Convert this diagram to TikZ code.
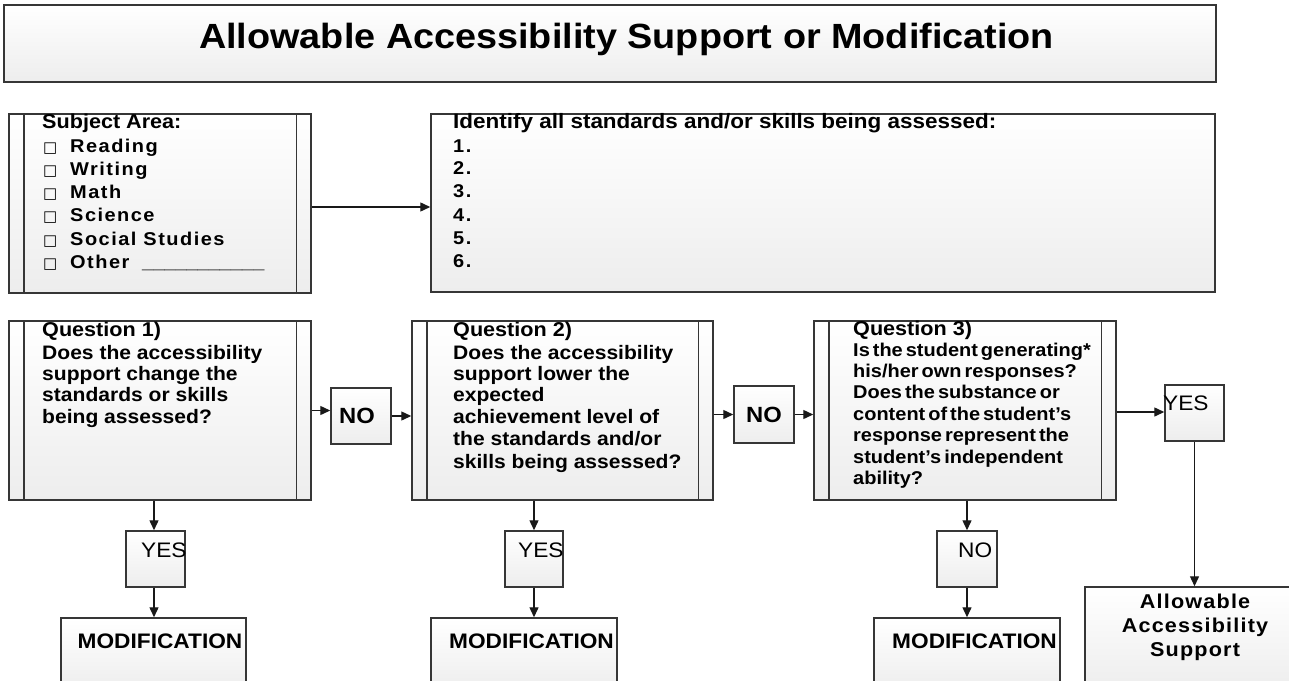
\documentclass[tikz,border=0pt]{standalone}
\usepackage{fontspec}
\setmainfont{Liberation Sans}[FakeStretch=1.08]
\newfontfamily\itemfont{Liberation Sans}[FakeStretch=1.08,LetterSpace=8]
\newfontfamily\allowfont{Liberation Sans}[FakeStretch=1.08,LetterSpace=6]
\newfontfamily\symfont{DejaVu Sans}
\usetikzlibrary{arrows.meta}
\definecolor{edge}{HTML}{363636}
\definecolor{boxbot}{HTML}{EDEDED}
\newcommand\tsp{\spaceskip=3pt plus 1pt\relax}
\tikzset{
  box/.style={draw=edge, line width=1.5pt, top color=white, bottom color=boxbot, inner sep=0pt, rectangle},
  arr/.style={draw=black!90, line width=1.4pt, -{Triangle[length=10pt,width=9pt]}},
  innerline/.style={draw=edge, line width=1.5pt},
  txt/.style={inner sep=0pt, anchor=base west, text=black},
  hdr/.style={txt, font=\bfseries\fontsize{20}{22}\selectfont},
  body/.style={txt, font=\bfseries\fontsize{19.5}{22}\selectfont},
  bodyc/.style={txt, font=\bfseries\fontsize{18.5}{21}\selectfont},
  itm/.style={txt, font=\itemfont\bfseries\fontsize{18.5}{20}\selectfont},
  sq/.style={txt, font=\symfont\fontsize{15}{16}\selectfont},
  ans/.style={txt, font=\fontsize{21}{24}\selectfont},
  ansb/.style={txt, anchor=base, font=\bfseries\fontsize{22}{24}\selectfont},
  modt/.style={txt, font=\bfseries\fontsize{21}{24}\selectfont},
  allowt/.style={txt, anchor=base, font=\allowfont\bfseries\fontsize{20}{22}\selectfont},
}
\newcommand\mkbox[5]{\node[box, minimum width={#4-#2}, minimum height={#5-#3}] (#1) at ({(#2+#4)/2},{(#3+#5)/2}) {};}
\newcommand\subbars[1]{%
  \draw[innerline] ([xshift=15.5pt]#1.north west) -- ([xshift=15.5pt]#1.south west);
  \draw[innerline] ([xshift=-15.5pt]#1.north east) -- ([xshift=-15.5pt]#1.south east);}
\begin{document}
\begin{tikzpicture}[x=1pt,y=-1pt]
\fill[white] (0,0) rectangle (1289,680);
\useasboundingbox (0,0) rectangle (1289,680);

% boxes
\mkbox{title}{4}{5}{1216}{82}
\mkbox{subj}{9}{114}{311}{293}
\mkbox{std}{431}{114}{1215}{292}
\mkbox{qa}{9}{321}{311}{500}
\mkbox{noa}{331}{388}{391}{444}
\mkbox{qb}{412}{321}{713}{500}
\mkbox{nob}{734}{386}{794}{443}
\mkbox{qc}{814}{321}{1116}{500}
\mkbox{yesc}{1165}{385}{1224}{441}
\mkbox{yesa}{126}{531}{185}{587}
\mkbox{yesb}{505}{531}{563}{587}
\mkbox{noc}{937}{531}{997}{587}
\mkbox{moda}{61}{618}{246}{692}
\mkbox{modb}{431}{618}{617}{692}
\mkbox{modc}{874}{618}{1060}{692}
\mkbox{allow}{1085}{587}{1300}{692}
\subbars{subj}
\subbars{qa}
\subbars{qb}
\subbars{qc}

% connectors
\draw[arr] ([yshift=-3.5pt]subj.east) -- ([yshift=-4pt]std.west);
\draw[arr] (qa.east) -- (qa.east -| noa.west);
\draw[arr] (noa.east) -- (noa.east -| qb.west);
\draw[arr] (nob.west -| qb.east) -- (nob.west);
\draw[arr] (nob.east) -- (nob.east -| qc.west);
\draw[arr] ([yshift=1pt]yesc.west -| qc.east) -- ([yshift=1pt]yesc.west);
\draw[arr] (yesc.south) -- (yesc.south |- allow.north);
\draw[arr] ([xshift=-1.5pt]yesa.north |- qa.south) -- ([xshift=-1.5pt]yesa.north);
\draw[arr] ([xshift=-1.5pt]yesa.south) -- ([xshift=-1.5pt]yesa.south |- moda.north);
\draw[arr] (yesb.north |- qb.south) -- (yesb.north);
\draw[arr] (yesb.south) -- (yesb.south |- modb.north);
\draw[arr] (noc.north |- qc.south) -- (noc.north);
\draw[arr] (noc.south) -- (noc.south |- modc.north);

% title
\node[txt, anchor=base, font=\bfseries\fontsize{35}{40}\selectfont] (ttl) at (626.5,48) {Allowable Accessibility Support or Modification};

% subject area
\node[hdr] (sa) at (42,128) {Subject Area:};
\node[sq] (sq1) at (43,152) {□};
\node[sq] (sq2) at (43,175) {□};
\node[sq] (sq3) at (43,198) {□};
\node[sq] (sq4) at (43,221) {□};
\node[sq] (sq5) at (43,245) {□};
\node[sq] (sq6) at (43,268) {□};
\node[itm] (s1) at (70,152) {Reading};
\node[itm] (s2) at (70,175) {Writing};
\node[itm] (s3) at (70,198) {Math};
\node[itm] (s4) at (70,221) {Science};
\node[itm] (s5) at (70,245) {Social Studies};
\node[itm] (s6) at (70,268) {Other};
\node[txt, font=\bfseries\fontsize{18.5}{20}\selectfont] (s6u) at (142,268) {\_\_\_\_\_\_\_\_\_\_\_};

% standards
\node[txt, font=\bfseries\fontsize{20.8}{22}\selectfont] (sh) at (453,128) {Identify all standards and/or skills being assessed:};
\node[itm] (n1) at (453,152) {1.};
\node[itm] (n2) at (453,174) {2.};
\node[itm] (n3) at (453,197) {3.};
\node[itm] (n4) at (453,221) {4.};
\node[itm] (n5) at (453,244) {5.};
\node[itm] (n6) at (453,267) {6.};

% question 1
\node[hdr] (qah) at (42,336) {Question 1)};
\node[body] (qa1) at (42,359) {Does the accessibility};
\node[body] (qa2) at (42,380) {support change the};
\node[body] (qa3) at (42,401) {standards or skills};
\node[body] (qa4) at (42,423) {being assessed?};

% question 2
\node[hdr] (qbh) at (453,336) {Question 2)};
\node[body] (qb1) at (453,359) {Does the accessibility};
\node[body] (qb2) at (453,380) {support lower the};
\node[body] (qb3) at (453,401) {expected};
\node[body] (qb4) at (453,423) {achievement level of};
\node[body] (qb5) at (453,445) {the standards and/or};
\node[body] (qb6) at (453,468) {skills being assessed?};

% question 3
\node[hdr] (qch) at (853,335) {Question 3)};
\node[bodyc] (qc1) at (853,356) {\tsp Is the student generating*};
\node[bodyc] (qc2) at (853,377) {\tsp his/her own responses?};
\node[bodyc] (qc3) at (853,398) {\tsp Does the substance or};
\node[bodyc] (qc4) at (853,420) {\tsp content of the student’s};
\node[bodyc] (qc5) at (853,441) {\tsp response represent the};
\node[bodyc] (qc6) at (853,463) {\tsp student’s independent};
\node[bodyc] (qc7) at (853,484) {\tsp ability?};

% answers
\node[ansb] (noat) at (357,423) {NO};
\node[ansb] (nobt) at (764,422) {NO};
\node[ans] (yesct) at (1163,410) {YES};
\node[ans] (yesat) at (141,557) {YES};
\node[ans] (yesbt) at (518,557) {YES};
\node[ans] (noct) at (958,557) {NO};

% results
\node[modt] (modat) at (77.5,648) {MODIFICATION};
\node[modt] (modbt) at (449,648) {MODIFICATION};
\node[modt] (modct) at (892,648) {MODIFICATION};
\node[allowt] (al1) at (1195,608) {Allowable};
\node[allowt] (al2) at (1195,632) {Accessibility};
\node[allowt] (al3) at (1195,656) {Support};
\end{tikzpicture}
\end{document}
